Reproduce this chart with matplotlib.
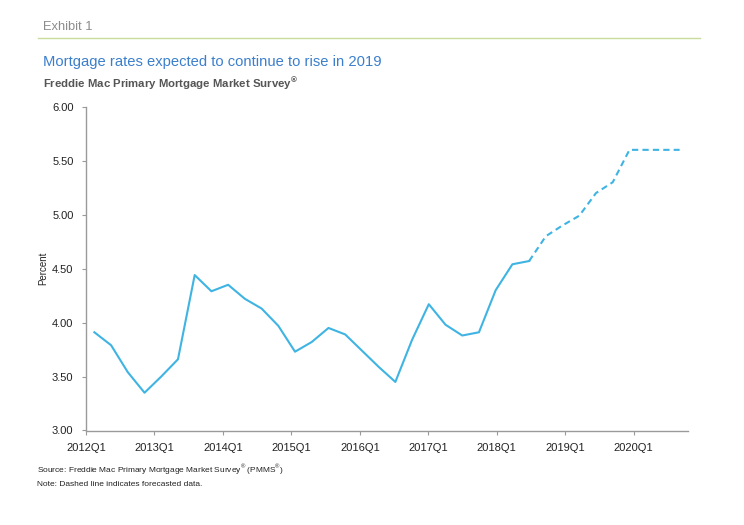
import matplotlib
matplotlib.use("Agg")
import matplotlib.pyplot as plt
import numpy as np

plt.rcParams['font.family'] = ['Liberation Sans', 'DejaVu Sans']
plt.rcParams['mathtext.fontset'] = 'custom'
plt.rcParams['mathtext.rm'] = 'Liberation Sans'
plt.rcParams['mathtext.bf'] = 'Liberation Sans:bold'

# quarterly 30-year fixed rate, 2012Q1 .. 2020Q4 (last 10 are forecast)
actual = [3.91, 3.79, 3.54, 3.35, 3.50, 3.66, 4.44, 4.29, 4.35, 4.22,
          4.13, 3.97, 3.73, 3.82, 3.95, 3.89, 3.74, 3.59, 3.45, 3.84,
          4.17, 3.98, 3.88, 3.91, 4.30, 4.54, 4.57]
forecast = [4.57, 4.80, 4.90, 4.99, 5.20, 5.30, 5.60, 5.60, 5.60, 5.60]
year_labels = ['2012Q1', '2013Q1', '2014Q1', '2015Q1', '2016Q1',
               '2017Q1', '2018Q1', '2019Q1', '2020Q1']
y_ticks = [3.0, 3.5, 4.0, 4.5, 5.0, 5.5, 6.0]

line_color = '#3fb4e3'
axis_color = '#9a9a9a'

x_act = np.arange(len(actual))
x_fc = np.arange(len(actual) - 1, len(actual) - 1 + len(forecast))

fig = plt.figure(figsize=(7.44, 5.25), dpi=100)
ax = fig.add_axes([0.1156, 0.18, 0.8091, 0.6168])

ax.plot(x_act, actual, color=line_color, lw=1.5)
ax.plot(x_fc, forecast, color=line_color, lw=1.5, ls=(0, (3, 2)))

ax.set_xlim(-0.5, 35.5)
ax.set_ylim(3.0, 6.0)
# year ticks as placed on the original date axis
ax.set_xticks(np.arange(len(year_labels)) * 4.094 - 0.5)
ax.set_xticklabels(year_labels)
ax.set_yticks(y_ticks)
ax.set_yticklabels(['%.2f' % v for v in y_ticks])

for s in ['top', 'right']:
    ax.spines[s].set_visible(False)
for s in ['left', 'bottom']:
    ax.spines[s].set_color(axis_color)
    ax.spines[s].set_linewidth(1.0)
ax.tick_params(axis='both', colors=axis_color, labelcolor='#222222',
               labelsize=8, length=3, width=0.8)
ax.tick_params(axis='x', pad=6)
ax.tick_params(axis='y', pad=6)
ax.set_ylabel('Percent', fontsize=7, color='#222222', labelpad=3)

fig.text(43 / 744, 1 - 27 / 525, 'Exhibit 1', fontsize=9.3, color='#8c8c8c',
         va='center')
fig.add_artist(plt.Line2D([38 / 744, 700 / 744], [1 - 38 / 525, 1 - 38 / 525],
                          color='#c8dc9c', lw=1.0))
fig.text(43 / 744, 1 - 62 / 525, 'Mortgage rates expected to continue to rise in 2019',
         fontsize=10.6, color='#3b7fcc', va='center')
fig.text(43 / 744, 1 - 84 / 525, r'Freddie Mac Primary Mortgage Market Survey$^{\mathbf{®}}$',
         fontsize=8.2, color='#555555', fontweight='bold', va='center')
fig.text(37 / 744, 1 - 470 / 525,
         'Source: Freddie Mac Primary Mortgage Market Survey$^{®}$ (PMMS$^{®}$)',
         fontsize=6, color='#222222', va='center')
fig.text(37 / 744, 1 - 485 / 525, 'Note: Dashed line indicates forecasted data.',
         fontsize=6, color='#222222', va='center')

fig.savefig('out.png', dpi=100)
